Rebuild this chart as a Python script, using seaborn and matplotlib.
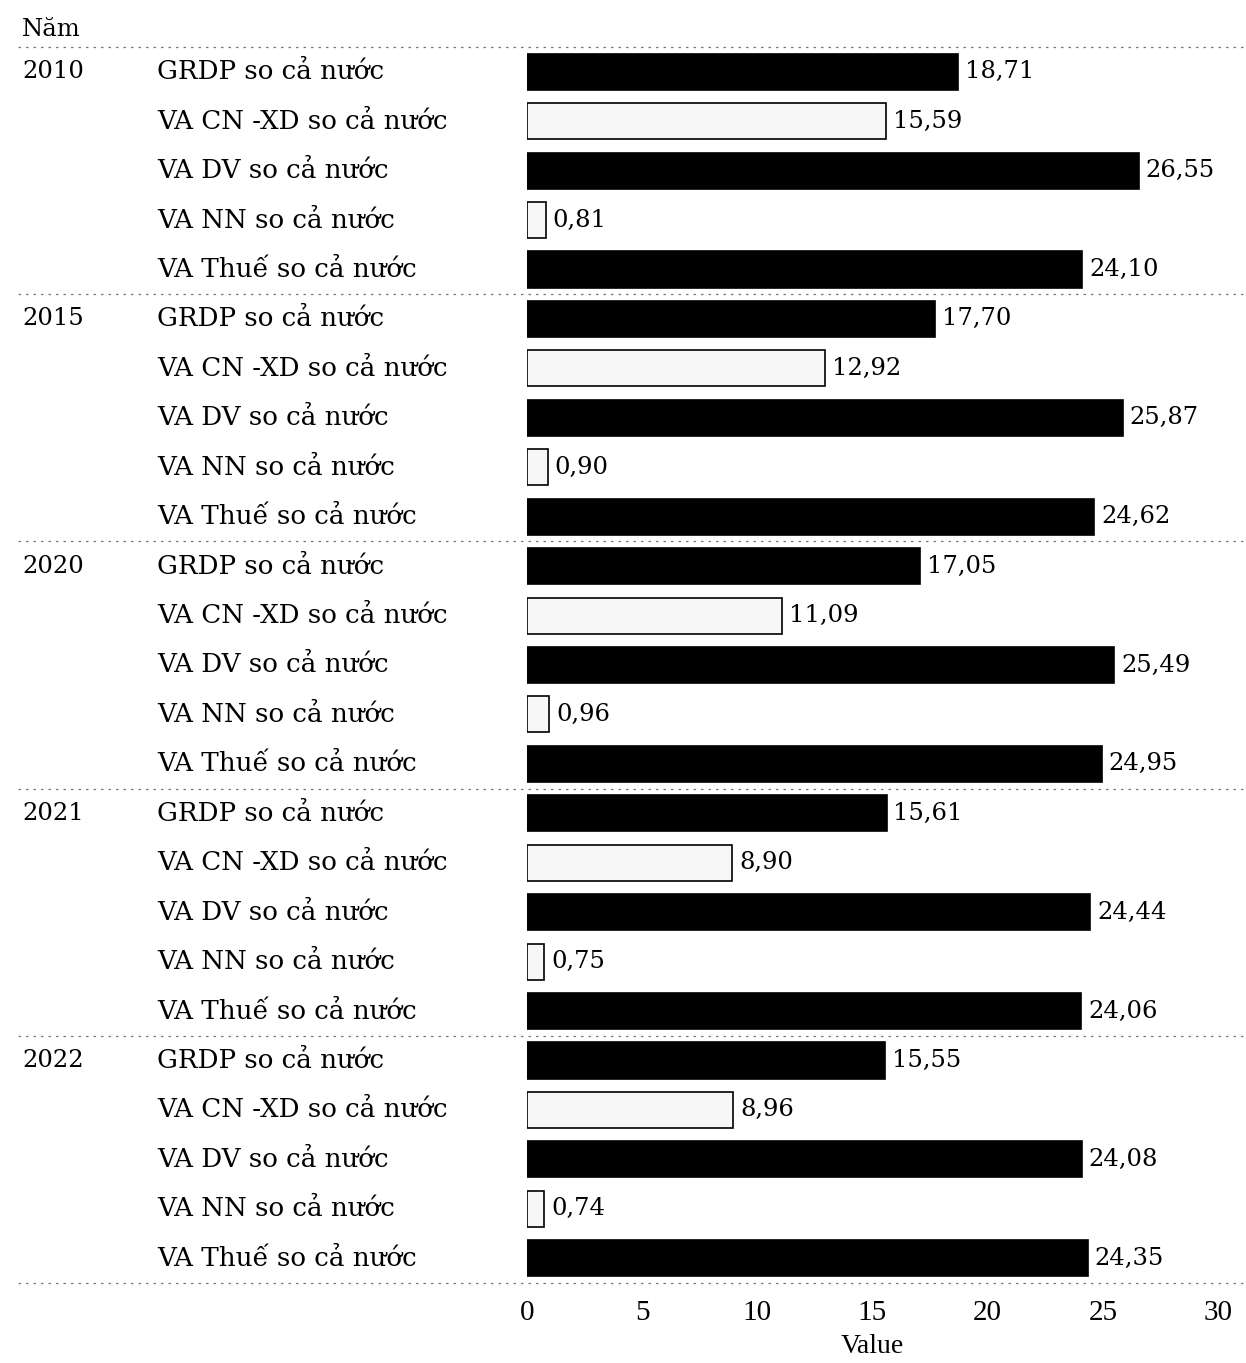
import matplotlib
matplotlib.use("Agg")
import matplotlib.pyplot as plt
import matplotlib.transforms as mtransforms
import seaborn as sns
import pandas as pd

# Data: share of the province versus the whole country (%)
years = ["2010", "2015", "2020", "2021", "2022"]
categories = [
    "GRDP so cả nước",
    "VA CN -XD so cả nước",
    "VA DV so cả nước",
    "VA NN so cả nước",
    "VA Thuế so cả nước",
]
values_2010 = [18.71, 15.59, 26.55, 0.81, 24.10]
values_2015 = [17.70, 12.92, 25.87, 0.90, 24.62]
values_2020 = [17.05, 11.09, 25.49, 0.96, 24.95]
values_2021 = [15.61, 8.90, 24.44, 0.75, 24.06]
values_2022 = [15.55, 8.96, 24.08, 0.74, 24.35]
xticks = [0, 5, 10, 15, 20, 25, 30]

all_values = [values_2010, values_2015, values_2020, values_2021, values_2022]
rows = []
for yr, vals in zip(years, all_values):
    for cat, v in zip(categories, vals):
        rows.append({"row": f"{yr} | {cat}", "year": yr, "category": cat, "value": v})
df = pd.DataFrame(rows)
order = list(df["row"])

palette = {
    categories[0]: "#000000",
    categories[1]: "#f7f7f7",
    categories[2]: "#000000",
    categories[3]: "#f7f7f7",
    categories[4]: "#000000",
}

sns.set_theme(style="white")
plt.rcParams["font.family"] = ["DejaVu Serif"]
plt.rcParams["text.color"] = "black"
plt.rcParams["xtick.color"] = "black"
plt.rcParams["axes.labelcolor"] = "black"

LABEL_FONT = ["DejaVu Serif"]
AXIS_FONT = ["Liberation Serif", "DejaVu Serif"]

W, H = 1246, 1363
fig = plt.figure(figsize=(W / 100, H / 100), dpi=100)
ax = fig.add_axes([527 / W, 1 - 1283 / H, (1218 - 527) / W, (1283 - 47) / H])

sns.barplot(
    data=df, x="value", y="row", hue="category", order=order,
    palette=palette, dodge=False, width=0.73, legend=False,
    edgecolor="black", linewidth=1.2, ax=ax,
)

ax.set_xlim(0, 30)
ax.set_ylim(24.5, -0.5)
ax.set_xticks(xticks)
ax.set_xticklabels([str(t) for t in xticks], fontsize=21, family=AXIS_FONT)
ax.tick_params(axis="x", length=0, pad=12)
ax.set_yticks([])
ax.set_ylabel("")
ax.set_xlabel("Value", fontsize=20, labelpad=6, family=AXIS_FONT)
for s in ax.spines.values():
    s.set_visible(False)

# Value labels with comma decimal separator
for container in ax.containers:
    labels = [f"{b.get_width():.2f}".replace(".", ",") if b.get_width() > 0 else "" for b in container]
    ax.bar_label(container, labels=labels, padding=5, fontsize=17.5, family=LABEL_FONT)

# Row labels: year column and category column
trans = mtransforms.blended_transform_factory(fig.transFigure, ax.transData)
for i, r in df.iterrows():
    ax.text(157 / W, i, r["category"], transform=trans, ha="left", va="center",
            fontsize=18.8, family=LABEL_FONT, clip_on=False)
    if r["category"] == categories[0]:
        ax.text(22 / W, i, r["year"], transform=trans, ha="left", va="center",
                fontsize=17.5, family=LABEL_FONT, clip_on=False)

fig.text(22 / W, 1 - 30 / H, "Năm", ha="left", va="center", fontsize=17.5,
         family=LABEL_FONT)

# Dotted separators between year groups
for k in range(len(years) + 1):
    yv = k * len(categories) - 0.5
    ax.plot([18 / W, 1.0], [yv, yv], transform=trans, color="#777777",
            linestyle=(0, (2, 4)), linewidth=0.9, clip_on=False)

fig.savefig("out.png", dpi=100, facecolor="white")
